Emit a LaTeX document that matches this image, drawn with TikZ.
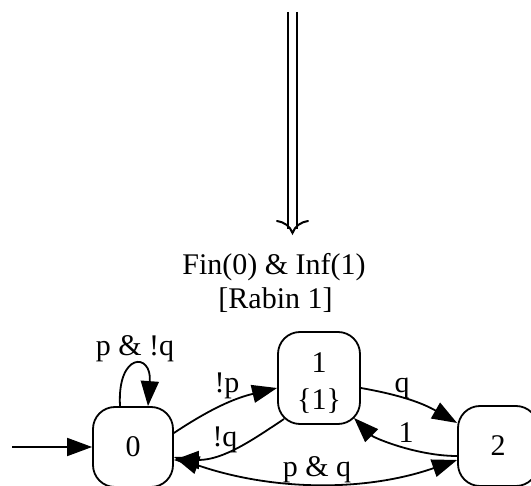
\documentclass[tikz,border=0pt]{standalone}
\usepackage{fontspec}
\setmainfont{Liberation Serif}
\usetikzlibrary{arrows.meta}
\begin{document}
\begin{tikzpicture}[x=1pt,y=1pt,
  state/.style={draw, line width=1.8pt, rounded corners=22pt, minimum width=80pt, minimum height=80pt, inner sep=0pt, font=\fontsize{30}{37}\selectfont, align=center},
  lbl/.style={font=\fontsize{30}{34}\selectfont, anchor=base, inner sep=0pt},
  tip/.tip={Triangle[length=25pt,width=18pt]},
  edge/.style={line width=1.8pt, -tip},
  thick2/.style={line width=2pt},
]
\useasboundingbox (0,0) rectangle (531,-486);

% implication arrow
\coordinate (la) at (288,-12);
\coordinate (ra) at (297,-12);
\coordinate (lb) at (288,-229);
\coordinate (rb) at (297,-229);
\draw[thick2] (la) -- (lb);
\draw[thick2] (ra) -- (rb);
\draw[thick2, line cap=round] (277,-221) .. controls (284,-222) and (290,-226) .. (292.5,-233)
  .. controls (295,-226) and (301,-222) .. (308,-221);

% title
\node[lbl] (title1) at (274,-275) {Fin(0) \& Inf(1)};
\node[lbl] (title2) at (275.5,-309) {{[}Rabin 1{]}};

% states
\node[state] (n0) at (133,-447) {0};
\node[state, minimum width=82pt, minimum height=92pt] (n1) at (319,-378) {\rule{0pt}{31pt}1\\\{1\}};
\node[state] (n2) at (498,-446) {2};

% initial
\coordinate (init) at (12,-447);
\draw[edge] (init) -- (n0);

% self loop
\draw[edge] ([xshift=-13pt]n0.north) .. controls +(-3,54) and +(4,54) .. ([xshift=15pt]n0.north);
\node[lbl] (lloop) at (135,-356) {p \& !q};

% 0 -> 1
\draw[edge] ([yshift=14pt]n0.east) to[bend left=10] ([yshift=-10pt]n1.west);
\node[lbl] (l01) at (227,-393) {!p};

% 1 -> 0
\draw[edge] ([shift={(-35pt,-41pt)}]n1.center) .. controls +(-30,-20) and +(50,0) .. ([yshift=-13pt]n0.east);
\node[lbl] (l10) at (225,-447) {!q};

% 1 -> 2
\draw[edge] ([yshift=-10pt]n1.east) to[bend left=10] ([yshift=23pt]n2.west);
\node[lbl] (l12) at (402,-393) {q};

% 2 -> 1
\draw[edge] ([yshift=-10pt]n2.west) .. controls +(-40,0) and +(20,-20) .. ([shift={(35pt,-40pt)}]n1.center);
\node[lbl] (l21) at (406,-443) {1};

% 0 <-> 2
\draw[line width=1.8pt, tip-tip] ([yshift=-10pt]n0.east) .. controls +(95,-33) and +(-95,-33) .. ([yshift=-14pt]n2.west);
\node[lbl] (l02) at (317,-477) {p \& q};
\end{tikzpicture}
\end{document}
